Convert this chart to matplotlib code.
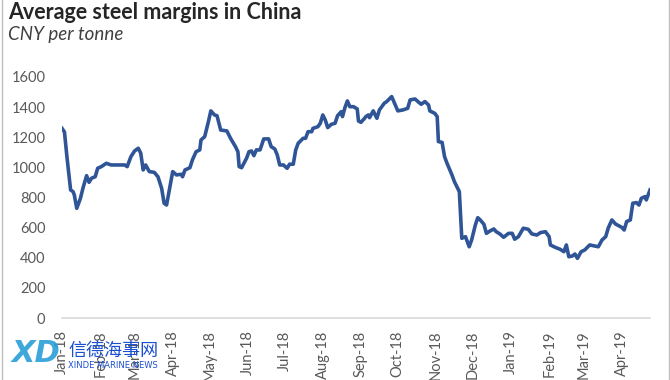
import matplotlib
matplotlib.use('Agg')
import matplotlib.pyplot as plt
import matplotlib.dates as mdates
import pandas as pd

# margins, CNY per tonne
dates = ['2018-01-01', '2018-01-03', '2018-01-05', '2018-01-08', '2018-01-10', '2018-01-11',
         '2018-01-13', '2018-01-16', '2018-01-18', '2018-01-21', '2018-01-23', '2018-01-25',
         '2018-01-28', '2018-01-30', '2018-02-02', '2018-02-06', '2018-02-10', '2018-02-21',
         '2018-02-23', '2018-02-26', '2018-03-01', '2018-03-04', '2018-03-06', '2018-03-08',
         '2018-03-10', '2018-03-13', '2018-03-17', '2018-03-20', '2018-03-23', '2018-03-25',
         '2018-03-27', '2018-03-29', '2018-04-01', '2018-04-04', '2018-04-08', '2018-04-09',
         '2018-04-11', '2018-04-15', '2018-04-17', '2018-04-20', '2018-04-23', '2018-04-24',
         '2018-04-27', '2018-04-30', '2018-05-02', '2018-05-05', '2018-05-07', '2018-05-10',
         '2018-05-15', '2018-05-18', '2018-05-22', '2018-05-24', '2018-05-25', '2018-05-27',
         '2018-05-31', '2018-06-02', '2018-06-04', '2018-06-06', '2018-06-08', '2018-06-11',
         '2018-06-14', '2018-06-18', '2018-06-20', '2018-06-23', '2018-06-25', '2018-06-27',
         '2018-06-30', '2018-07-03', '2018-07-05', '2018-07-08', '2018-07-10', '2018-07-12',
         '2018-07-16', '2018-07-18', '2018-07-20', '2018-07-23', '2018-07-24', '2018-07-28',
         '2018-07-30', '2018-08-01', '2018-08-03', '2018-08-05', '2018-08-08', '2018-08-11',
         '2018-08-13', '2018-08-16', '2018-08-17', '2018-08-19', '2018-08-21', '2018-08-23',
         '2018-08-26', '2018-08-29', '2018-08-30', '2018-09-01', '2018-09-04', '2018-09-05',
         '2018-09-07', '2018-09-08', '2018-09-11', '2018-09-14', '2018-09-16', '2018-09-20',
         '2018-09-22', '2018-09-26', '2018-09-29', '2018-10-01', '2018-10-05', '2018-10-09',
         '2018-10-11', '2018-10-15', '2018-10-18', '2018-10-20', '2018-10-23', '2018-10-26',
         '2018-10-27', '2018-10-31', '2018-11-02', '2018-11-03', '2018-11-06', '2018-11-08',
         '2018-11-10', '2018-11-14', '2018-11-16', '2018-11-20', '2018-11-22', '2018-11-25',
         '2018-11-27', '2018-11-28', '2018-11-30', '2018-12-03', '2018-12-05', '2018-12-07',
         '2018-12-10', '2018-12-12', '2018-12-15', '2018-12-18', '2018-12-20', '2018-12-23',
         '2018-12-26', '2018-12-30', '2019-01-02', '2019-01-04', '2019-01-07', '2019-01-11',
         '2019-01-15', '2019-01-18', '2019-01-22', '2019-01-25', '2019-01-29', '2019-02-01',
         '2019-02-02', '2019-02-06', '2019-02-10', '2019-02-13', '2019-02-15', '2019-02-17',
         '2019-02-20', '2019-02-22', '2019-02-24', '2019-02-27', '2019-03-02', '2019-03-06',
         '2019-03-10', '2019-03-13', '2019-03-16', '2019-03-19', '2019-03-21', '2019-03-24',
         '2019-03-27', '2019-03-30', '2019-04-01', '2019-04-03', '2019-04-05', '2019-04-08',
         '2019-04-10', '2019-04-13', '2019-04-15', '2019-04-17', '2019-04-20', '2019-04-21',
         '2019-04-24']
margins = [1259, 1235, 1071, 850, 839, 817,
           728, 795, 861, 945, 901, 928,
           938, 994, 1005, 1027, 1016, 1016,
           1005, 1071, 1109, 1127, 1094, 983,
           1016, 972, 967, 938, 861, 762,
           750, 839, 972, 950, 954, 938,
           983, 998, 1049, 1104, 1116, 1182,
           1204, 1303, 1375, 1348, 1343, 1248,
           1242, 1193, 1138, 1104, 1005, 998,
           1060, 1104, 1109, 1078, 1116, 1116,
           1189, 1189, 1138, 1122, 1082, 1016,
           1016, 994, 1021, 1021, 1116, 1160,
           1193, 1193, 1237, 1237, 1259, 1270,
           1293, 1348, 1315, 1264, 1286, 1293,
           1343, 1370, 1337, 1397, 1441, 1403,
           1403, 1388, 1308, 1299, 1326, 1337,
           1348, 1330, 1375, 1326, 1381, 1426,
           1437, 1470, 1414, 1375, 1381, 1392,
           1448, 1454, 1432, 1419, 1437, 1414,
           1375, 1359, 1337, 1171, 1166, 1071,
           1027, 950, 905, 839, 529, 540,
           496, 473, 518, 617, 666, 651,
           622, 562, 578, 591, 573, 558,
           536, 562, 562, 523, 540, 596,
           589, 558, 551, 567, 573, 540,
           485, 469, 456, 440, 485, 407,
           412, 425, 396, 440, 452, 485,
           478, 473, 518, 540, 596, 651,
           624, 611, 602, 584, 640, 651,
           762, 766, 750, 795, 806, 784,
           850]
y_ticks = [0, 200, 400, 600, 800, 1000, 1200, 1400, 1600]

x = pd.to_datetime(dates)

plt.rcParams['font.family'] = ['Lato', 'DejaVu Sans']
grey = '#595959'

fig = plt.figure(figsize=(6.7, 3.8), dpi=100)
ax = fig.add_axes([62/670, 62/380, 588/670, 241/380])
ax.plot(x, margins, color='#2f5597', lw=2.6, solid_joinstyle='round')

ax.set_xlim(x[0], x[-1])
ax.set_ylim(0, 1600)
ax.set_yticks(y_ticks)
ax.xaxis.set_major_locator(mdates.MonthLocator())
ax.xaxis.set_major_formatter(mdates.DateFormatter('%b-%y'))
ax.tick_params(axis='x', length=0, pad=9, labelsize=10.5, labelcolor=grey, labelrotation=90)
ax.tick_params(axis='y', length=0, pad=12, labelsize=10.5, labelcolor=grey)
for s in ['top', 'right', 'left']:
    ax.spines[s].set_visible(False)
ax.spines['bottom'].set_color('#d9d9d9')
ax.spines['bottom'].set_linewidth(1.2)

fig.text(8/670, 1 - 2/380, 'Average steel margins in China', fontsize=15.5, fontweight='bold',
         color='#262626', va='top', ha='left')
fig.text(8/670, 1 - 26/380, 'CNY per tonne', fontsize=13.5, style='italic',
         color='#404040', va='top', ha='left')

# frame lines at the edges of the picture
fig.add_artist(plt.Line2D([1.5/670, 1.5/670], [0, 1], color='#bfbfbf', lw=1))
fig.add_artist(plt.Line2D([668.5/670, 668.5/670], [0, 1], color='#bfbfbf', lw=1))

# watermark
fig.text(12/670, 1 - 354/380, 'XD', fontsize=22, fontweight='bold', style='italic',
         color='#2a9fd8', alpha=0.9, va='center', ha='left', family='DejaVu Sans')
fig.text(68/670, 1 - 351/380, '信德海事网', fontsize=13, color='#1a4fd0',
         va='center', ha='left', family=['Noto Sans CJK SC', 'DejaVu Sans'])
fig.text(68/670, 1 - 366/380, 'XINDE MARINE NEWS', fontsize=6, color='#1a4fd0',
         va='center', ha='left', family='DejaVu Sans')

plt.savefig('out.png', format='png', dpi=100)
plt.close()
